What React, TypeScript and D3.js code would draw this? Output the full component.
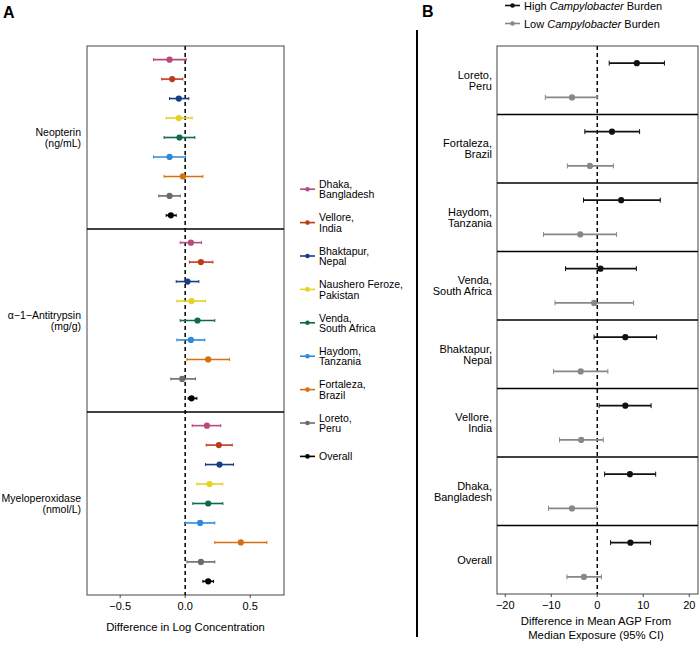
import { scaleBand, scaleLinear, scalePoint } from 'd3'

const sites = [
  'Dhaka, Bangladesh',
  'Vellore, India',
  'Bhaktapur, Nepal',
  'Naushero Feroze, Pakistan',
  'Venda, South Africa',
  'Haydom, Tanzania',
  'Fortaleza, Brazil',
  'Loreto, Peru',
  'Overall',
]
const siteColors = ['#b8497f', '#bf3a1c', '#123f86', '#e5d024', '#0d6c45', '#2d8ad7', '#d6700f', '#6b6b6b', '#000000']

const markers = ['Neopterin', 'α\u22121\u2212Antitrypsin', 'Myeloperoxidase']
const markerUnits = ['(ng/mL)', '(mg/g)', '(nmol/L)']

// [estimate, lower, upper] per site, same order as sites
const neopterin = [
  [-0.12, -0.244, 0.008],
  [-0.1, -0.18, -0.018],
  [-0.049, -0.12, 0.028],
  [-0.049, -0.146, 0.054],
  [-0.044, -0.162, 0.074],
  [-0.12, -0.244, 0.003],
  [-0.018, -0.162, 0.136],
  [-0.12, -0.203, -0.038],
  [-0.11, -0.146, -0.069],
]
const antitrypsin = [
  [0.044, -0.038, 0.126],
  [0.121, 0.033, 0.213],
  [0.018, -0.069, 0.105],
  [0.049, -0.064, 0.156],
  [0.095, -0.038, 0.228],
  [0.044, -0.064, 0.151],
  [0.177, 0.013, 0.341],
  [-0.023, -0.11, 0.079],
  [0.049, 0.023, 0.09],
]
const myeloperoxidase = [
  [0.167, 0.054, 0.274],
  [0.259, 0.162, 0.362],
  [0.264, 0.156, 0.372],
  [0.187, 0.09, 0.29],
  [0.177, 0.059, 0.29],
  [0.115, 0.003, 0.228],
  [0.428, 0.228, 0.628],
  [0.121, 0.013, 0.228],
  [0.177, 0.136, 0.218],
]
const markerData = [neopterin, antitrypsin, myeloperoxidase]
const ticksA = [-0.5, 0, 0.5]

const sitesB = [
  'Loreto, Peru',
  'Fortaleza, Brazil',
  'Haydom, Tanzania',
  'Venda, South Africa',
  'Bhaktapur, Nepal',
  'Vellore, India',
  'Dhaka, Bangladesh',
  'Overall',
]
const highBurden = [
  [8.6, 2.6, 14.6],
  [3.2, -2.7, 9.2],
  [5.2, -3.0, 13.7],
  [0.7, -6.9, 8.5],
  [6.1, -0.7, 12.9],
  [6.1, 0.4, 11.7],
  [7.1, 1.6, 12.7],
  [7.2, 2.9, 11.6],
]
const lowBurden = [
  [-5.5, -11.3, 0.1],
  [-1.6, -6.5, 3.5],
  [-3.7, -11.7, 4.2],
  [-0.7, -9.2, 7.9],
  [-3.6, -9.5, 2.3],
  [-3.5, -8.2, 1.3],
  [-5.5, -10.6, -0.1],
  [-2.9, -6.6, 0.9],
]
const ticksB = [-20, -10, 0, 10, 20]

const FONT = '"Liberation Sans", Arial, Helvetica, sans-serif'
const fmtMinus = (s: string) => s.replace('-', '\u2212')
const splitSite = (s: string) => {
  const parts = s.split(', ')
  return parts.length > 1 ? [parts[0] + ',', parts[1]] : [s]
}

function ErrorBar({ x, lo, hi, y, color, cap, r, sw }: any) {
  return (
    <g stroke={color} strokeWidth={sw}>
      <line x1={lo} x2={hi} y1={y} y2={y} />
      <line x1={lo} x2={lo} y1={y - cap} y2={y + cap} strokeWidth={1} />
      <line x1={hi} x2={hi} y1={y - cap} y2={y + cap} strokeWidth={1} />
      <circle cx={x} cy={y} r={r} fill={color} stroke="none" />
    </g>
  )
}

function Lines({ x, y, lines, anchor = 'end', lh = 11.5, size = 10.5 }: any) {
  const y0 = y - ((lines.length - 1) * lh) / 2
  return (
    <text x={x} textAnchor={anchor} fontSize={size} dominantBaseline="central">
      {lines.map((l: string, i: number) => (
        <tspan key={i} x={x} y={y0 + i * lh}>
          {l}
        </tspan>
      ))}
    </text>
  )
}

export default function App() {
  // panel A
  const xA = scaleLinear().domain([-0.755, 0.76]).range([87, 284])
  const yGroup = scaleBand().domain(markers).range([46, 595])
  const yRow = scalePoint().domain(sites).range([0, yGroup.bandwidth()]).padding(0.7)
  const topA = 46
  const botA = 595

  // panel B
  const xB = scaleLinear().domain([-21.8, 21.9]).range([497, 698])
  const yB = scaleBand().domain(sitesB).range([46, 594])
  const bwB = yB.bandwidth()

  return (
    <svg width={700} height={646} style={{ position: 'absolute', left: 0, top: 0 }} fontFamily={FONT}>
      <rect width={700} height={646} fill="#fff" />
      <text x={3} y={18} fontSize={16} fontWeight="bold">A</text>
      <text x={422} y={17} fontSize={16} fontWeight="bold">B</text>

      {/* Panel A */}
      <rect x={87} y={topA} width={197} height={botA - topA} fill="none" stroke="#444" strokeWidth={1} />
      {markers.slice(1).map((m) => (
        <line key={m} x1={87} x2={284} y1={yGroup(m)} y2={yGroup(m)} stroke="#000" strokeWidth={1.6} />
      ))}
      <line x1={xA(0)} x2={xA(0)} y1={topA} y2={botA} stroke="#000" strokeWidth={1.5} strokeDasharray="4,3" />
      {markers.map((m, gi) => {
        const g0 = yGroup(m) as number
        return (
          <g key={m}>
            <Lines x={81} y={g0 + yGroup.bandwidth() / 2} lines={[m, markerUnits[gi]]} lh={11.7} size={10.5} />
            {markerData[gi].map((d, i) => (
              <ErrorBar
                key={i}
                x={xA(d[0])}
                lo={xA(d[1])}
                hi={xA(d[2])}
                y={g0 + (yRow(sites[i]) as number)}
                color={siteColors[i]}
                cap={1.5}
                r={3.1}
                sw={1.6}
              />
            ))}
          </g>
        )
      })}
      {ticksA.map((t) => (
        <g key={t}>
          <line x1={xA(t)} x2={xA(t)} y1={botA} y2={botA + 3} stroke="#444" />
          <text x={xA(t)} y={610} fontSize={11} textAnchor="middle">
            {fmtMinus(t.toFixed(1))}
          </text>
        </g>
      ))}
      <text x={185.5} y={630.5} fontSize={11.3} textAnchor="middle">
        Difference in Log Concentration
      </text>

      {/* Legend A */}
      {sites.map((s, i) => {
        const y = 189.2 + i * 33.4
        return (
          <g key={s}>
            <line x1={300} x2={315} y1={y} y2={y} stroke={siteColors[i]} strokeWidth={1.6} />
            <circle cx={307.5} cy={y} r={2.3} fill={siteColors[i]} />
            <Lines x={319} y={y} lines={splitSite(s)} anchor="start" lh={10.5} />
          </g>
        )
      })}

      {/* divider */}
      <line x1={417} x2={417} y1={30} y2={637} stroke="#000" strokeWidth={2} />

      {/* Legend B */}
      {[
        ['High', '#111'],
        ['Low', '#888'],
      ].map(([lab, c], i) => {
        const y = 5.5 + i * 18
        return (
          <g key={lab}>
            <line x1={505} x2={520} y1={y} y2={y} stroke={c} strokeWidth={1.6} />
            <circle cx={512.5} cy={y} r={2.3} fill={c} />
            <text x={524} y={y} fontSize={11} dominantBaseline="central">
              {lab} <tspan fontStyle="italic">Campylobacter</tspan> Burden
            </text>
          </g>
        )
      })}

      {/* Panel B */}
      <rect x={497} y={46} width={201} height={548} fill="none" stroke="#444" strokeWidth={1} />
      {sitesB.slice(1).map((s) => (
        <line key={s} x1={497} x2={698} y1={yB(s)} y2={yB(s)} stroke="#000" strokeWidth={1.6} />
      ))}
      <line x1={xB(0)} x2={xB(0)} y1={46} y2={594} stroke="#000" strokeWidth={1.5} strokeDasharray="4,3" />
      {sitesB.map((s, i) => {
        const g0 = yB(s) as number
        const h = highBurden[i]
        const l = lowBurden[i]
        return (
          <g key={s}>
            <Lines x={492} y={g0 + bwB / 2} lines={splitSite(s)} lh={11} size={11} />
            <ErrorBar x={xB(l[0])} lo={xB(l[1])} hi={xB(l[2])} y={g0 + bwB * 0.75} color="#888" cap={2.5} r={3.1} sw={1.6} />
            <ErrorBar x={xB(h[0])} lo={xB(h[1])} hi={xB(h[2])} y={g0 + bwB * 0.25} color="#111" cap={2.5} r={3.1} sw={1.6} />
          </g>
        )
      })}
      {ticksB.map((t) => (
        <g key={t}>
          <line x1={xB(t)} x2={xB(t)} y1={594} y2={597} stroke="#444" />
          <text x={xB(t)} y={609} fontSize={11} textAnchor="middle">
            {fmtMinus(String(t))}
          </text>
        </g>
      ))}
      <text x={596} fontSize={11.3} textAnchor="middle">
        <tspan x={596} y={624.5}>Difference in Mean AGP From</tspan>
        <tspan x={596} y={638.5}>Median Exposure (95% CI)</tspan>
      </text>
    </svg>
  )
}
